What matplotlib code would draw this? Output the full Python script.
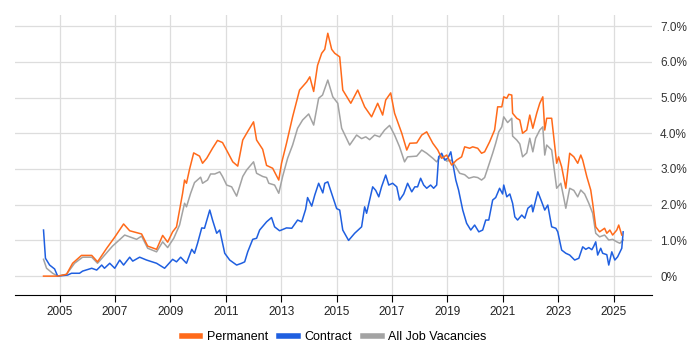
import matplotlib
matplotlib.use("Agg")
import matplotlib.pyplot as plt
from matplotlib.ticker import FuncFormatter

plt.rcParams["font.family"] = ["Liberation Sans", "DejaVu Sans"]

# Permanent (decimal year, % of vacancies)
perm_x = [2004.42, 2004.93, 2005.25, 2005.47, 2005.79, 2006.16, 2006.37, 2006.70, 2006.99, 2007.31,
          2007.53, 2007.96, 2008.18, 2008.50, 2008.72, 2008.90, 2009.08, 2009.22, 2009.44, 2009.51,
          2009.58, 2009.69, 2009.84, 2010.05, 2010.16, 2010.31, 2010.52, 2010.70, 2010.88, 2011.06,
          2011.25, 2011.43, 2011.61, 2011.79, 2012.00, 2012.11, 2012.33, 2012.47, 2012.69, 2012.91,
          2013.01, 2013.19, 2013.41, 2013.66, 2013.92, 2014.03, 2014.17, 2014.31, 2014.46, 2014.57,
          2014.68, 2014.82, 2014.93, 2015.11, 2015.22, 2015.51, 2015.76, 2016.01, 2016.26, 2016.48,
          2016.66, 2016.77, 2016.95, 2017.09, 2017.35, 2017.53, 2017.64, 2017.89, 2018.07, 2018.25,
          2018.47, 2018.65, 2018.79, 2018.97, 2019.15, 2019.33, 2019.51, 2019.62, 2019.80, 2019.91,
          2020.09, 2020.23, 2020.34, 2020.52, 2020.70, 2020.81, 2020.96, 2021.03, 2021.14, 2021.21,
          2021.32, 2021.35, 2021.50, 2021.61, 2021.71, 2021.86, 2021.97, 2022.08, 2022.22, 2022.33,
          2022.44, 2022.51, 2022.58, 2022.76, 2022.94, 2023.01, 2023.12, 2023.27, 2023.41, 2023.56,
          2023.70, 2023.81, 2023.88, 2024.03, 2024.17, 2024.24, 2024.35, 2024.49, 2024.67, 2024.75,
          2024.86, 2024.96, 2025.11, 2025.18, 2025.29]
perm_y = [0.00, 0.00, 0.05, 0.36, 0.58, 0.58, 0.40, 0.78, 1.09, 1.46,
          1.27, 1.18, 0.84, 0.75, 1.14, 0.95, 1.24, 1.38, 2.32, 2.69,
          2.60, 2.99, 3.45, 3.36, 3.16, 3.30, 3.58, 3.80, 3.74, 3.48,
          3.20, 3.08, 3.81, 4.05, 4.32, 3.81, 3.55, 3.10, 3.02, 2.69,
          3.16, 3.72, 4.46, 5.21, 5.44, 5.58, 5.17, 5.90, 6.24, 6.35,
          6.80, 6.35, 6.24, 6.14, 5.21, 4.84, 5.21, 4.74, 4.46, 4.84,
          4.51, 4.93, 5.13, 4.56, 4.00, 3.53, 3.72, 3.73, 3.95, 4.04,
          3.72, 3.53, 3.30, 3.39, 3.11, 3.25, 3.34, 3.62, 3.58, 3.62,
          3.58, 3.44, 3.48, 3.76, 4.09, 4.74, 4.74, 5.02, 4.98, 5.09,
          5.07, 4.56, 4.42, 4.37, 4.00, 4.09, 4.51, 4.14, 4.56, 4.84,
          5.02, 4.09, 4.42, 4.42, 3.16, 3.34, 3.06, 2.46, 3.44, 3.34,
          3.16, 3.39, 3.25, 2.78, 2.41, 2.04, 1.38, 1.24, 1.34, 1.20,
          1.29, 1.15, 1.29, 1.43, 1.15]

# Contract
cont_x = [2004.42, 2004.49, 2004.64, 2004.82, 2004.93, 2005.29, 2005.43, 2005.72, 2005.83, 2006.16,
          2006.34, 2006.52, 2006.62, 2006.81, 2006.99, 2007.17, 2007.31, 2007.53, 2007.64, 2007.89,
          2008.14, 2008.50, 2008.79, 2009.08, 2009.22, 2009.37, 2009.58, 2009.77, 2009.87, 2009.98,
          2010.13, 2010.23, 2010.42, 2010.52, 2010.67, 2010.78, 2010.96, 2011.14, 2011.39, 2011.57,
          2011.68, 2011.79, 2011.97, 2012.11, 2012.22, 2012.47, 2012.65, 2012.76, 2012.94, 2013.19,
          2013.38, 2013.59, 2013.74, 2013.88, 2013.95, 2014.10, 2014.21, 2014.35, 2014.50, 2014.57,
          2014.68, 2014.86, 2015.00, 2015.11, 2015.22, 2015.43, 2015.65, 2015.90, 2016.01, 2016.08,
          2016.19, 2016.30, 2016.41, 2016.52, 2016.62, 2016.77, 2016.88, 2017.02, 2017.17, 2017.27,
          2017.42, 2017.56, 2017.71, 2017.82, 2017.92, 2018.03, 2018.14, 2018.25, 2018.39, 2018.50,
          2018.61, 2018.68, 2018.79, 2018.90, 2019.01, 2019.12, 2019.19, 2019.30, 2019.40, 2019.55,
          2019.69, 2019.84, 2019.98, 2020.13, 2020.27, 2020.38, 2020.49, 2020.63, 2020.74, 2020.88,
          2020.99, 2021.03, 2021.14, 2021.25, 2021.35, 2021.43, 2021.53, 2021.68, 2021.79, 2021.90,
          2022.04, 2022.08, 2022.26, 2022.40, 2022.51, 2022.62, 2022.76, 2022.91, 2022.98, 2023.12,
          2023.27, 2023.41, 2023.59, 2023.74, 2023.88, 2023.99, 2024.10, 2024.21, 2024.28, 2024.35,
          2024.42, 2024.53, 2024.60, 2024.75, 2024.82, 2024.93, 2025.04, 2025.14, 2025.29, 2025.34]
cont_y = [1.29, 0.50, 0.31, 0.20, 0.00, 0.03, 0.08, 0.08, 0.14, 0.22,
          0.17, 0.31, 0.22, 0.36, 0.22, 0.45, 0.31, 0.53, 0.42, 0.53,
          0.45, 0.36, 0.22, 0.47, 0.40, 0.53, 0.36, 0.75, 0.64, 0.92,
          1.35, 1.34, 1.85, 1.57, 1.20, 1.29, 0.64, 0.45, 0.31, 0.36,
          0.40, 0.68, 1.03, 1.06, 1.29, 1.52, 1.64, 1.38, 1.27, 1.35,
          1.34, 1.57, 1.52, 1.87, 2.20, 1.96, 2.27, 2.60, 2.33, 2.60,
          2.64, 2.22, 1.89, 1.85, 1.29, 1.00, 1.20, 1.38, 1.94, 1.76,
          2.13, 2.50, 2.40, 2.22, 2.50, 2.83, 2.55, 2.60, 2.50, 2.13,
          2.30, 2.60, 2.36, 2.50, 2.50, 2.74, 2.55, 2.46, 2.55, 2.46,
          2.55, 3.34, 3.44, 3.25, 3.30, 3.48, 3.16, 2.69, 2.41, 1.85,
          1.48, 1.29, 1.43, 1.24, 1.29, 1.57, 1.57, 2.13, 2.20, 2.46,
          2.30, 2.55, 2.22, 2.30, 2.04, 1.66, 1.57, 1.71, 1.62, 1.90,
          1.99, 1.80, 2.36, 2.08, 1.85, 1.99, 1.38, 1.34, 1.24, 0.73,
          0.64, 0.59, 0.45, 0.50, 0.82, 0.75, 0.80, 0.74, 0.84, 0.96,
          0.59, 0.78, 0.64, 0.60, 0.31, 0.68, 0.45, 0.54, 0.78, 1.24]

# All job vacancies
all_x = [2004.42, 2004.53, 2004.75, 2004.93, 2005.25, 2005.54, 2005.83, 2006.16, 2006.37, 2006.91,
         2007.35, 2007.78, 2007.96, 2008.18, 2008.50, 2008.72, 2008.90, 2009.12, 2009.33, 2009.51,
         2009.58, 2009.73, 2009.87, 2010.09, 2010.16, 2010.34, 2010.45, 2010.60, 2010.78, 2010.88,
         2011.03, 2011.21, 2011.39, 2011.61, 2011.75, 2012.00, 2012.11, 2012.33, 2012.47, 2012.55,
         2012.76, 2012.91, 2013.05, 2013.23, 2013.41, 2013.59, 2013.77, 2013.99, 2014.17, 2014.35,
         2014.49, 2014.68, 2014.86, 2015.04, 2015.18, 2015.47, 2015.72, 2015.90, 2016.05, 2016.19,
         2016.37, 2016.55, 2016.73, 2016.91, 2017.09, 2017.27, 2017.45, 2017.56, 2017.89, 2018.07,
         2018.25, 2018.47, 2018.61, 2018.79, 2018.97, 2019.15, 2019.26, 2019.44, 2019.62, 2019.77,
         2019.95, 2020.09, 2020.23, 2020.34, 2020.49, 2020.63, 2020.74, 2020.85, 2020.96, 2021.03,
         2021.17, 2021.32, 2021.35, 2021.50, 2021.61, 2021.71, 2021.86, 2021.97, 2022.08, 2022.18,
         2022.33, 2022.44, 2022.51, 2022.58, 2022.76, 2022.87, 2022.94, 2023.09, 2023.19, 2023.27,
         2023.41, 2023.56, 2023.70, 2023.81, 2023.95, 2024.10, 2024.24, 2024.35, 2024.49, 2024.67,
         2024.82, 2024.96, 2025.11, 2025.22, 2025.34]
all_y = [0.47, 0.22, 0.08, 0.00, 0.05, 0.36, 0.53, 0.53, 0.36, 0.84,
         1.15, 1.03, 1.12, 0.78, 0.68, 0.96, 0.80, 1.06, 1.43, 2.04,
         1.94, 2.32, 2.62, 2.77, 2.60, 2.69, 2.86, 2.86, 2.92, 2.79,
         2.55, 2.50, 2.24, 2.79, 2.97, 3.20, 2.88, 2.79, 2.76, 2.60,
         2.55, 2.32, 2.79, 3.30, 3.67, 4.14, 4.37, 4.54, 4.23, 4.98,
         5.07, 5.49, 5.02, 4.84, 4.14, 3.67, 3.95, 3.85, 3.90, 3.82,
         3.95, 3.90, 4.09, 4.22, 3.95, 3.62, 3.20, 3.34, 3.36, 3.53,
         3.44, 3.30, 3.20, 3.39, 3.22, 3.25, 3.11, 2.88, 2.84, 2.74,
         2.78, 2.76, 2.69, 2.76, 3.11, 3.44, 3.72, 4.04, 4.18, 4.46,
         4.30, 4.42, 3.92, 3.81, 3.70, 3.34, 3.45, 3.86, 3.48, 3.86,
         4.09, 4.18, 3.39, 3.67, 3.53, 2.88, 2.46, 2.60, 2.22, 1.90,
         2.46, 2.40, 2.22, 2.41, 2.30, 2.04, 1.76, 1.20, 1.10, 1.15,
         1.01, 1.03, 0.96, 0.92, 1.01]

year_ticks = [2005, 2007, 2009, 2011, 2013, 2015, 2017, 2019, 2021, 2023, 2025]
pct_ticks = [0, 1, 2, 3, 4, 5, 6, 7]

fig = plt.figure(figsize=(7, 3.5), dpi=100)
ax = fig.add_axes([0.021, 0.157, 0.91, 0.8])

ax.plot(all_x, all_y, color="#a3a3a3", lw=1.1, label="All Job Vacancies", zorder=3)
ax.plot(cont_x, cont_y, color="#1f5fe0", lw=1.1, label="Contract", zorder=4)
ax.plot(perm_x, perm_y, color="#ff6a1a", lw=1.1, label="Permanent", zorder=5)

ax.set_xlim(2003.38, 2026.37)
ax.set_ylim(-0.53, 7.31)
ax.set_xticks(year_ticks)
ax.set_xticklabels([str(y) for y in year_ticks])
ax.set_yticks(pct_ticks)
ax.yaxis.set_major_formatter(FuncFormatter(lambda v, p: "0%" if v == 0 else f"{v:.1f}%"))
ax.yaxis.tick_right()
ax.grid(True, color="#dddddd", lw=0.9)
ax.set_axisbelow(True)

for s in ["top", "left", "right"]:
    ax.spines[s].set_visible(False)
ax.spines["bottom"].set_color("#000000")
ax.tick_params(axis="x", length=5, color="#000000", labelsize=8.5, labelcolor="#222222", pad=3)
ax.tick_params(axis="y", length=0, labelsize=8.5, labelcolor="#333333", pad=6)

handles, labels = ax.get_legend_handles_labels()
order = [2, 1, 0]
leg = fig.legend([handles[i] for i in order], [labels[i] for i in order],
                 loc="center", bbox_to_anchor=(0.477, 0.037), ncol=3, frameon=False,
                 fontsize=9, handlelength=1.5, handletextpad=0.5, columnspacing=0.9)
for line in leg.get_lines():
    line.set_linewidth(4)

fig.savefig("out.png", dpi=100)
